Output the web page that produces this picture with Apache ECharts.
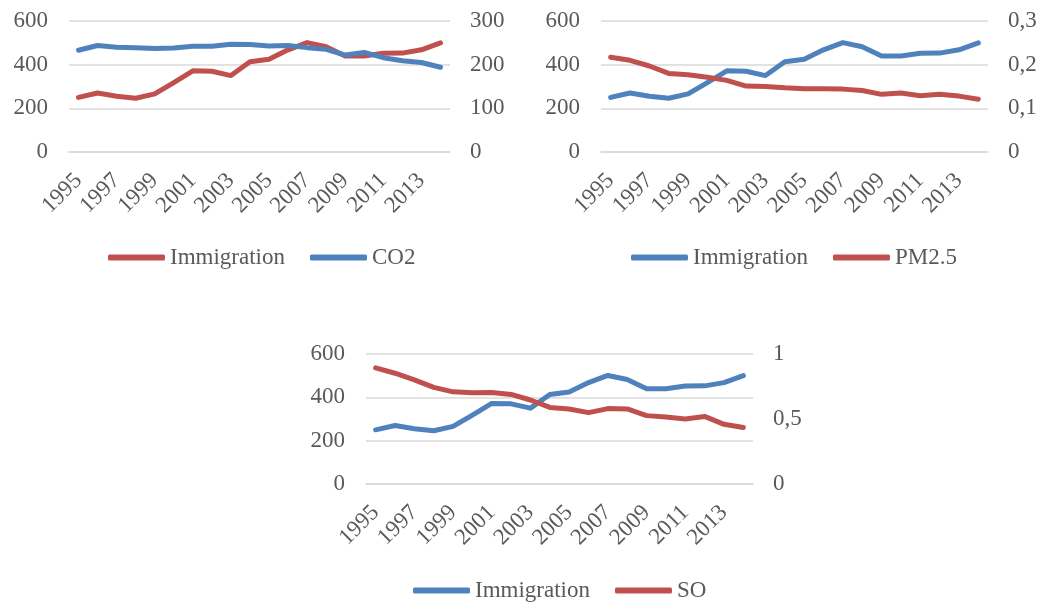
<!DOCTYPE html>
<html>
<head>
<meta charset="utf-8">
<script src="https://cdn.jsdelivr.net/npm/echarts@6/dist/echarts.min.js"></script>
<style>
html,body{margin:0;padding:0;background:#fff;}
.c{position:absolute;left:0;top:0;width:1042px;height:605px;}
</style>
</head>
<body>
<div id="a" class="c"></div>
<div id="b" class="c"></div>
<div id="d" class="c"></div>
<script>
const years = ['1995','1996','1997','1998','1999','2000','2001','2002','2003','2004','2005','2006','2007','2008','2009','2010','2011','2012','2013','2014'];
const immigration = [250, 270, 255, 246, 266, 318, 372, 370, 350, 413, 425, 468, 501, 482, 440, 440, 452, 453, 468, 500];
const co2 = [233, 244, 240, 239, 237, 238, 242, 242, 247, 246, 243, 244, 239, 235, 222, 228, 216, 209, 205, 194];
const pm25 = [0.217, 0.210, 0.197, 0.180, 0.177, 0.171, 0.164, 0.151, 0.150, 0.147, 0.145, 0.145, 0.144, 0.141, 0.132, 0.135, 0.129, 0.132, 0.128, 0.121];
const so = [0.893, 0.852, 0.801, 0.743, 0.709, 0.702, 0.704, 0.689, 0.646, 0.589, 0.577, 0.549, 0.580, 0.577, 0.526, 0.516, 0.500, 0.520, 0.459, 0.434];
const leftTicks = {min: 0, max: 600, interval: 200};

const RED = '#C0504D', BLUE = '#4F81BD';
const FONT = "'Liberation Serif','Times New Roman',serif";
const TXT = '#595959';
const FS = 23;

function comma(v){ return v === 0 ? '0' : String(+v.toFixed(2)).replace('.', ','); }

function build(grid, rightAxis, s1, s2, legendPos){
  return {
    animation: false,
    textStyle: {fontFamily: FONT},
    grid: Object.assign({containLabel: false}, grid),
    legend: {
      left: legendPos.left, top: legendPos.top, padding: 0,
      icon: 'roundRect', itemWidth: 57, itemHeight: 6, itemGap: 25,
      textStyle: {fontFamily: FONT, fontSize: FS, color: TXT},
      data: [s1.name, s2.name]
    },
    xAxis: {
      type: 'category', data: years, boundaryGap: true,
      axisLine: {show: true, lineStyle: {color: '#D9D9D9', width: 1.5}},
      axisTick: {show: false},
      axisLabel: {interval: 1, rotate: 45, margin: 25, fontFamily: FONT, fontSize: FS, color: TXT}
    },
    yAxis: [
      {type: 'value', min: leftTicks.min, max: leftTicks.max, interval: leftTicks.interval,
       axisLine: {show: false}, axisTick: {show: false},
       splitLine: {lineStyle: {color: '#D9D9D9', width: 1.5}},
       axisLabel: {margin: 21, fontFamily: FONT, fontSize: FS, color: TXT}},
      Object.assign({type: 'value', position: 'right',
       axisLine: {show: false}, axisTick: {show: false}, splitLine: {show: false},
       axisLabel: {margin: 20, fontFamily: FONT, fontSize: FS, color: TXT, formatter: rightAxis.fmt}}, rightAxis.range)
    ],
    series: [s1, s2].map(s => ({
      name: s.name, type: 'line', data: s.data, yAxisIndex: s.axis,
      symbol: 'none', showSymbol: false, smooth: false,
      itemStyle: {color: s.color},
      lineStyle: {color: s.color, width: 5, cap: 'round', join: 'round'}
    }))
  };
}

echarts.init(document.getElementById('a')).setOption(build(
  {left: 69, top: 21, width: 381, height: 131},
  {range: {min: 0, max: 300, interval: 100}, fmt: v => String(v)},
  {name: 'Immigration', data: immigration, axis: 0, color: RED},
  {name: 'CO2', data: co2, axis: 1, color: BLUE},
  {left: 108, top: 246}
));

echarts.init(document.getElementById('b')).setOption(build(
  {left: 601, top: 21, width: 387, height: 131},
  {range: {min: 0, max: 0.3, interval: 0.1}, fmt: comma},
  {name: 'Immigration', data: immigration, axis: 0, color: BLUE},
  {name: 'PM2.5', data: pm25, axis: 1, color: RED},
  {left: 631, top: 246}
));

echarts.init(document.getElementById('d')).setOption(build(
  {left: 366, top: 354, width: 387, height: 130},
  {range: {min: 0, max: 1, interval: 0.5}, fmt: comma},
  {name: 'Immigration', data: immigration, axis: 0, color: BLUE},
  {name: 'SO', data: so, axis: 1, color: RED},
  {left: 413, top: 579}
));
</script>
</body>
</html>
